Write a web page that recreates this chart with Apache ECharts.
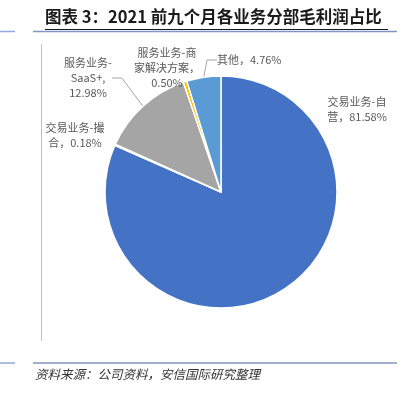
<!DOCTYPE html>
<html>
<head>
<meta charset="utf-8">
<script src="https://cdn.jsdelivr.net/npm/echarts@6/dist/echarts.min.js"></script>
<style>
html,body{margin:0;padding:0;background:#fff;}
#chart{width:411px;height:395px;}
</style>
</head>
<body>
<div id="chart"></div>
<script>
var titleText = '图表 3：2021 前九个月各业务分部毛利润占比';
var sourceText = '资料来源：公司资料，安信国际研究整理';
var categories = ['交易业务-自营', '交易业务-撮合', '服务业务-SaaS+', '服务业务-商家解决方案', '其他'];
var values = [81.58, 0.18, 12.98, 0.50, 4.76];
var labelTexts = [
  '交易业务-自\n营，81.58%',
  '交易业务-撮\n合，0.18%',
  '服务业务-\nSaaS+,\n12.98%',
  '服务业务-商\n家解决方案，\n0.50%',
  '其他，4.76%'
];
var colors = ['#4472C4', '#ED7D31', '#A5A5A5', '#FFC000', '#5B9BD5'];

var labelPos = [
  {x: 357, y: 109, align: 'center'},
  {x: 75, y: 135, align: 'center'},
  {x: 88, y: 78, align: 'center'},
  {x: 167, y: 68, align: 'center'},
  {x: 217, y: 60, align: 'left'}
];
var showLine = [false, false, true, false, true];

var chart = echarts.init(document.getElementById('chart'), null, {renderer: 'canvas'});
var data = categories.map(function (c, i) {
  return {
    name: c,
    value: values[i],
    itemStyle: {color: colors[i]},
    label: {formatter: labelTexts[i]},
    labelLine: {show: showLine[i]}
  };
});

chart.setOption({
  animation: false,
  graphic: [
    {type: 'text', left: 45, top: 8, style: {text: titleText, font: 'bold 16.5px "Noto Sans CJK SC"', fill: '#1a1a1a'}},
    {type: 'line', shape: {x1: 45, y1: 29.5, x2: 388, y2: 29.5}, style: {stroke: '#1a1a1a', lineWidth: 1}},
    {type: 'line', shape: {x1: 0, y1: 31.5, x2: 15, y2: 31.5}, style: {stroke: '#8faadc', lineWidth: 1.5}},
    {type: 'line', shape: {x1: 33, y1: 31.5, x2: 397, y2: 31.5}, style: {stroke: '#7f96c4', lineWidth: 1.5}},
    {type: 'line', shape: {x1: 41.5, y1: 44, x2: 41.5, y2: 341}, style: {stroke: '#bfbfbf', lineWidth: 1}},
    {type: 'line', shape: {x1: 0, y1: 363, x2: 15, y2: 363}, style: {stroke: '#8faadc', lineWidth: 1.5}},
    {type: 'line', shape: {x1: 33, y1: 363, x2: 397, y2: 363}, style: {stroke: '#7f96c4', lineWidth: 1.5}},
    {type: 'text', left: 35, top: 368, style: {text: sourceText, font: 'italic 12.5px "Noto Sans CJK SC"', fill: '#333'}}
  ],
  series: [{
    type: 'pie',
    center: [221, 192],
    radius: [0, 116],
    startAngle: 90,
    clockwise: true,
    avoidLabelOverlap: false,
    itemStyle: {borderColor: '#fff', borderWidth: 1.5},
    label: {
      show: true,
      position: 'outside',
      color: '#595959',
      fontSize: 11,
      lineHeight: 15,
      fontFamily: '"Noto Sans CJK SC"'
    },
    labelLine: {show: true, length: 10, length2: 10, lineStyle: {color: '#a6a6a6', width: 1}},
    labelLayout: function (params) {
      var p = labelPos[params.dataIndex];
      return {x: p.x, y: p.y, align: p.align, verticalAlign: 'middle', hideOverlap: false};
    },
    emphasis: {disabled: true},
    data: data
  }]
});
</script>
</body>
</html>
